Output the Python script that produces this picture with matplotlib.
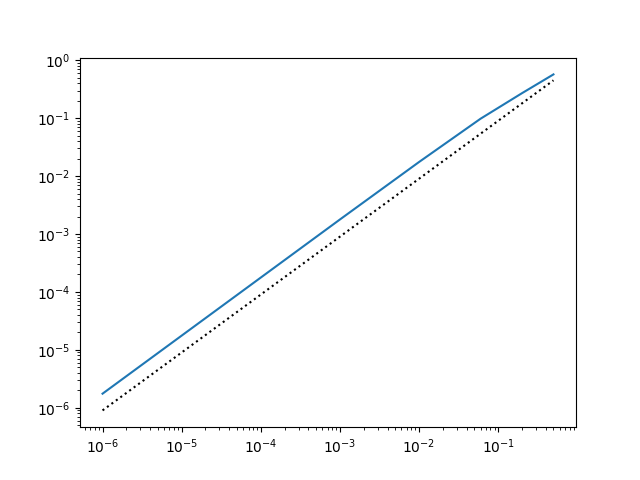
import matplotlib
matplotlib.use('Agg')
import matplotlib.pyplot as plt

# blue curve
h = [1e-6, 1e-5, 1e-4, 1e-3, 1e-2, 0.06, 0.2, 0.5]
err = [1.75e-6, 1.76e-5, 1.77e-4, 1.78e-3, 1.75e-2, 0.098, 0.27, 0.57]

# dotted reference line
ref_h = [1e-6, 0.5]
ref_err = [0.9e-6, 0.45]

fig = plt.figure(figsize=(6.4, 4.8), dpi=100)
plt.loglog(h, err)
plt.loglog(ref_h, ref_err, 'k:')
plt.savefig('out.png')
